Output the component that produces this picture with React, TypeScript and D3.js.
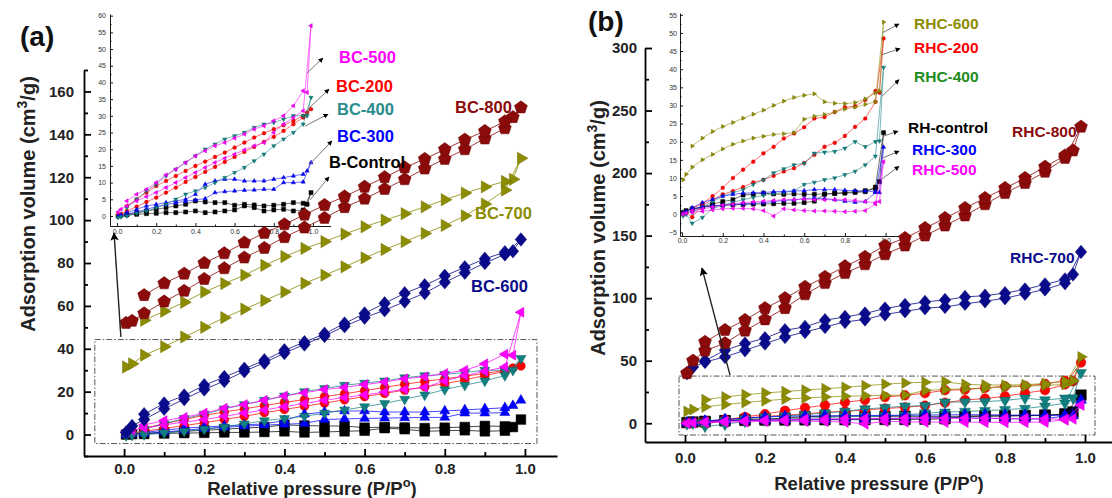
import React, { useEffect, useRef } from 'react';
import * as d3 from 'd3';

// relative pressure grids (adsorption up, desorption down)
const pAds = [0.005, 0.02, 0.05, 0.1, 0.15, 0.2, 0.25, 0.3, 0.35, 0.4, 0.45, 0.5, 0.55, 0.6, 0.65, 0.7, 0.75, 0.8, 0.85, 0.9, 0.95, 0.99];
const pDes = [0.97, 0.95, 0.9, 0.85, 0.8, 0.75, 0.7, 0.65, 0.6, 0.55, 0.5, 0.45, 0.4, 0.35, 0.3, 0.25, 0.2, 0.15, 0.1, 0.05];

// panel (a)
const bc800Ads = [52, 53, 56.5, 62, 67, 72.5, 77.5, 82.5, 87, 92, 96.5, 101, 106, 110, 114.5, 119, 124, 128.5, 133, 138, 142.8, 152.5];
const bc800Des = [148, 146, 141.5, 137.5, 133, 128.5, 124.5, 120, 115.5, 111, 107, 102.5, 98, 94, 89.5, 84.5, 80, 75, 70.5, 65];
const bc700Ads = [31.5, 33, 37, 41, 45.5, 50, 54.5, 58.5, 62.5, 66.5, 70.5, 74.3, 78.2, 82.4, 86.3, 90, 93.8, 97.5, 102, 107.5, 114, 128.8];
const bc700Des = [119, 118, 115.5, 112.6, 109.5, 106.2, 103, 100, 96.9, 93.5, 90, 86.8, 83, 78.9, 74.3, 70.4, 66.5, 61.7, 57.5, 53.3];
const bc600Ads = [1, 4, 7, 12, 16.5, 21, 25, 29.5, 33.5, 38, 42, 46, 50.5, 54.5, 58, 62, 66, 71, 75.5, 80, 84, 91];
const bc600Des = [85.5, 85, 82, 78, 74, 69.6, 65.9, 61.2, 56.5, 51.8, 47, 43.1, 39.3, 34.6, 30.7, 26.8, 23, 18.2, 14.5, 9.5];
const bc500Ads = [1.2, 2, 3, 4.5, 5.8, 7, 8.5, 10, 11.5, 13, 14.5, 16, 17.3, 18.5, 19.8, 21, 22, 25, 27.5, 29.5, 31.5, 57];
const bc500Des = [37, 37.5, 33, 30, 28.5, 27, 26, 24.5, 23.3, 22, 21, 19.5, 18, 16, 14, 12.3, 10, 8, 6.5, 4.5];
const bc200Ads = [0.3, 0.6, 1.5, 2.8, 4.2, 5.5, 7, 8.5, 10.2, 11.7, 13.2, 14.7, 16.2, 17.7, 19.2, 20.7, 22.2, 23.7, 25.5, 27.5, 29.5, 32];
const bc200Des = [31, 30, 28.5, 27.2, 26, 24.8, 23.5, 22, 20.5, 19, 17.7, 16.3, 15, 13.5, 12, 10.5, 9, 7, 5, 3];
const bc400Ads = [-0.5, -0.3, 0, 0.8, 1.5, 2.5, 3.5, 5, 6.5, 7.5, 8.5, 10, 11.5, 13, 14.5, 16.5, 18.5, 21, 23, 25, 27.5, 35.5];
const bc400Des = [30, 30, 30, 29, 28, 27.5, 26.5, 25, 24, 23, 21.5, 20, 18, 16, 14, 12, 9.5, 7.5, 5, 2.5];
const bc300Ads = [0, 0.3, 0.5, 1.2, 2, 2.8, 3.4, 3.9, 4.4, 4.8, 5.2, 7, 7.3, 7.5, 7.7, 7.8, 8, 8, 10, 10, 10.2, 16];
const bc300Des = [13.5, 12.5, 12, 11.5, 11, 10.5, 10.5, 10.5, 11, 11, 10.5, 9.5, 6.5, 5, 4.5, 4, 3.5, 3, 2, 1];
const bControlAds = [0, 0.2, 0.3, 0.5, 0.7, 0.8, 1, 1, 1.2, 1.5, 1, 1.2, 1.5, 1.8, 3, 2.5, 1.5, 1.8, 2, 1.5, 1.8, 7];
const bControlDes = [3.5, 3.8, 4, 3.5, 3.2, 3, 3.3, 3.5, 3.2, 4, 4, 4.2, 4.5, 3.5, 3, 2.5, 2, 1.5, 1, 0.5];

// panel (b)
const rhc800Ads = [40, 50, 58, 64, 74, 83, 92, 103, 112, 120, 127, 135, 142, 150, 158, 166, 175, 184, 192, 201, 212, 237];
const rhc800Des = [218, 214, 205, 196, 188, 180, 172, 164, 156, 148, 142, 133, 125.5, 117, 109, 100, 92, 82.5, 74.5, 65];
const rhc700Ads = [40, 45, 49, 53, 58.4, 63.7, 69, 73, 77, 81, 83, 87, 89.5, 92, 93, 95.5, 97.5, 100, 103.5, 107, 112, 137];
const rhc700Des = [119, 115, 111, 107, 104, 102, 101, 98.5, 97, 94.5, 91.7, 87.7, 85, 82.4, 77, 74.4, 68, 63.7, 58.4, 50];
const rhc600Ads = [9.5, 11, 13, 15, 16.5, 18, 19.3, 20.2, 21, 21.5, 22, 22.2, 22.5, 26.2, 27, 27.5, 28.2, 29, 29.5, 30.3, 31, 53];
const rhc600Des = [34, 33.5, 31.8, 30.8, 30.5, 30.6, 31, 33.2, 32.8, 32.2, 31.2, 30, 28.7, 27.6, 26.5, 25.3, 24.2, 22.8, 21, 18.8];
const rhc200Ads = [0.3, 0.5, -0.8, 2.5, 4, 5.5, 6.4, 7.5, 8.8, 9.5, 10.6, 11.8, 12.7, 14.1, 16.4, 18.6, 19.7, 21.6, 24.1, 26.4, 31, 48.5];
const rhc200Des = [33.5, 34, 31.5, 29.8, 29.5, 28.2, 26.8, 26.4, 24, 22.3, 20.9, 18.6, 16.8, 14.5, 12.3, 10, 7.3, 5, 3, 1.5];
const rhc400Ads = [-0.5, 0, -2.5, -0.9, 1.5, 2.5, 3.3, 4, 4.6, 5.2, 5.7, 6, 6.4, 8.2, 8.8, 9.5, 10, 10.9, 11.8, 13.6, 16, 40.5];
const rhc400Des = [20.2, 20, 18.6, 20, 18.2, 17.3, 17.1, 16.8, 14.1, 13.6, 12.5, 11.4, 9.5, 8.2, 6.8, 5.9, 5, 3.5, 2, 0.5];
const rhControlAds = [0.5, 1, 1.5, 2, 2.3, 2.5, 2.6, 2.7, 2.8, 2.8, 2.9, 3, 3, 3.2, 3.6, 5.5, 5.7, 5.8, 6, 6.2, 7.5, 22.5];
const rhControlDes = [9, 7, 6.5, 6.2, 6, 5.8, 5.6, 5.5, 5.5, 5.6, 5.5, 5.6, 5.8, 5.5, 5.3, 4, 3.5, 2.8, 2, 1.2];
const rhc300Ads = [0.3, 0.8, 1.5, 2, 2.3, 2.5, 2.7, 2.8, 3, 3.2, 3.5, 3.8, 4, 4.3, 4.5, 4.3, 4, 3.6, 3.3, 3.5, 6, 18.5];
const rhc300Des = [6, 6.2, 6.4, 6.5, 6.6, 6.8, 6.8, 6.8, 6.5, 6.4, 6.3, 6.2, 6, 5.9, 5.8, 5.5, 5, 4.1, 3.2, 1.8];
const rhc500Ads = [0, 0.3, 0.5, 0.8, 1.2, 1.5, 1.6, 1.6, 1.5, 1, -0.5, 1.5, 1.2, 1, 0.9, 0.9, 0.8, 0.7, 0.8, 1, 2.8, 14.5];
const rhc500Des = [3.5, 3.2, 3.5, 3.8, 4, 4, 4, 4, 4.2, 4, 4, 3.8, 3.6, 3.4, 3.2, 2.8, 2.5, 2, 1.5, 1];

const MAROON = '#8b0a0a', OLIVE = '#8c8c00', NAVY = '#0a0a8c', MAGENTA = '#ff00ff', RED = '#ff0000', TEAL = '#128080', BLUE = '#0000ff', BLACK = '#000000';
const FONT = "'Liberation Sans', Arial, Helvetica, sans-serif";

// marker shapes (size = diameter squared)
const poly = (n, rot, sx = 1) => ({
  draw(ctx, size) {
    const r = Math.sqrt(size) / 2;
    for (let i = 0; i < n; i++) {
      const a = rot + (i * 2 * Math.PI) / n;
      const px = Math.cos(a) * r * sx, py = Math.sin(a) * r;
      if (i === 0) ctx.moveTo(px, py); else ctx.lineTo(px, py);
    }
    ctx.closePath();
  },
});
const shapes = {
  pentagon: poly(5, -Math.PI / 2),
  diamond: poly(4, -Math.PI / 2, 0.85),
  square: poly(4, -Math.PI / 4),
  up: poly(3, -Math.PI / 2),
  down: poly(3, Math.PI / 2),
  left: poly(3, Math.PI),
  right: poly(3, 0),
  circle: { draw(ctx, size) { const r = Math.sqrt(size) / 2; ctx.moveTo(r, 0); ctx.arc(0, 0, r, 0, 2 * Math.PI); } },
};
const shapeScale = { pentagon: 1, diamond: 1, square: 1.25, up: 1.05, down: 1.05, left: 1.05, right: 1.05, circle: 0.8 };

const seriesA = [
  { name: 'B-Control', color: BLACK, shape: 'square', ads: bControlAds, des: bControlDes },
  { name: 'BC-200', color: RED, shape: 'circle', ads: bc200Ads, des: bc200Des },
  { name: 'BC-300', color: BLUE, shape: 'up', ads: bc300Ads, des: bc300Des },
  { name: 'BC-400', color: TEAL, shape: 'down', ads: bc400Ads, des: bc400Des },
  { name: 'BC-500', color: MAGENTA, shape: 'left', ads: bc500Ads, des: bc500Des },
];
const bigA = [
  { name: 'BC-600', color: NAVY, shape: 'diamond', ads: bc600Ads, des: bc600Des },
  { name: 'BC-700', color: OLIVE, shape: 'right', ads: bc700Ads, des: bc700Des },
  { name: 'BC-800', color: MAROON, shape: 'pentagon', ads: bc800Ads, des: bc800Des },
];
const seriesB = [
  { name: 'RH-control', color: BLACK, shape: 'square', ads: rhControlAds, des: rhControlDes },
  { name: 'RHC-200', color: RED, shape: 'circle', ads: rhc200Ads, des: rhc200Des },
  { name: 'RHC-400', color: TEAL, shape: 'down', ads: rhc400Ads, des: rhc400Des },
  { name: 'RHC-600', color: OLIVE, shape: 'right', ads: rhc600Ads, des: rhc600Des },
  { name: 'RHC-300', color: BLUE, shape: 'up', ads: rhc300Ads, des: rhc300Des },
  { name: 'RHC-500', color: MAGENTA, shape: 'left', ads: rhc500Ads, des: rhc500Des },
];
const bigB = [
  { name: 'RHC-700', color: NAVY, shape: 'diamond', ads: rhc700Ads, des: rhc700Des },
  { name: 'RHC-800', color: MAROON, shape: 'pentagon', ads: rhc800Ads, des: rhc800Des },
];

// text labels (pixel layout)
const labelsA = [
  { t: 'BC-500', c: MAGENTA, x: 339, y: 63 },
  { t: 'BC-200', c: RED, x: 336, y: 92 },
  { t: 'BC-400', c: '#2a8c8c', x: 337, y: 115 },
  { t: 'BC-300', c: BLUE, x: 337, y: 142 },
  { t: 'B-Control', c: BLACK, x: 329, y: 168 },
  { t: 'BC-800', c: MAROON, x: 455, y: 113 },
  { t: 'BC-700', c: OLIVE, x: 475, y: 219 },
  { t: 'BC-600', c: NAVY, x: 471, y: 292 },
];
const labelsB = [
  { t: 'RHC-600', c: OLIVE, x: 914, y: 29 },
  { t: 'RHC-200', c: RED, x: 914, y: 53 },
  { t: 'RHC-400', c: '#1e8c1e', x: 914, y: 82 },
  { t: 'RH-control', c: BLACK, x: 908, y: 133 },
  { t: 'RHC-300', c: BLUE, x: 912, y: 155 },
  { t: 'RHC-500', c: MAGENTA, x: 912, y: 175 },
  { t: 'RHC-800', c: MAROON, x: 1012, y: 137 },
  { t: 'RHC-700', c: NAVY, x: 1010, y: 263 },
];
// leader lines in inset data units [x0,y0,x1,y1]
const leadA = [[0.969, 42.8, 1.051, 47.3], [0.969, 31.7, 1.082, 38], [0.959, 26.9, 1.077, 30.5], [0.98, 15.3, 1.097, 22.5], [0.985, 4.8, 1.082, 11.7]];
const leadB = [[0.986, 50.1, 1.066, 52.5], [0.981, 44, 1.071, 45.7], [0.981, 32.5, 1.066, 37.1], [0.987, 21.5, 1.061, 22.9], [0.981, 15.4, 1.066, 17.4], [0.981, 9.7, 1.066, 13.2]];

const range = (a, b, s) => d3.range(a, b + s / 2, s).map(v => +v.toFixed(4));

const panels = [
  {
    tag: '(a)', tagX: 20, tagY: 46,
    x: d3.scaleLinear().domain([-0.1, 1.08]).range([84, 557]),
    y: d3.scaleLinear().domain([-10, 170]).range([456, 70]),
    xMajor: range(0, 1, 0.2), xMinor: range(0.1, 0.9, 0.2),
    yMajor: range(0, 160, 20), yMinor: range(-10, 170, 20),
    yPad: 10, xPad: 7, yTitle: [35, 204], xTitle: [312, 495],
    box: [-0.073, 44.3, 1.03, -4.2], arrow: [-0.008, 45.5, -0.025, 94],
    ix: d3.scaleLinear().domain([-0.036, 1.09]).range([110, 330.6]),
    iy: d3.scaleLinear().domain([-3, 60.5]).range([226, 14]),
    iyMajor: range(0, 60, 5), iyMinor: range(2.5, 57.5, 5), iyPad: 4, ixPad: 3,
    small: seriesA, big: bigA, labels: labelsA, lead: leadA, labelSize: 16.5,
    mainSize: 11, bigSize: 13.5,
  },
  {
    tag: '(b)', tagX: 588, tagY: 31,
    x: d3.scaleLinear().domain([-0.1, 1.07]).range([645, 1113]),
    y: d3.scaleLinear().domain([-15, 300]).range([442, 48]),
    xMajor: range(0, 1, 0.2), xMinor: range(0.1, 0.9, 0.2),
    yMajor: range(0, 300, 50), yMinor: range(25, 275, 50),
    yPad: 8, xPad: 10, yTitle: [605, 228], xTitle: [879, 490],
    box: [-0.015, 37.7, 1.025, -9.4], arrow: [0.1125, 38.5, 0.0425, 124],
    ix: d3.scaleLinear().domain([-0.01, 1.11]).range([680, 908]),
    iy: d3.scaleLinear().domain([-6, 55.5]).range([236, 13]),
    iyMajor: range(-5, 55, 5), iyMinor: range(-2.5, 52.5, 5), iyPad: 3, ixPad: 2,
    small: seriesB, big: bigB, labels: labelsB, lead: leadB, labelSize: 15.5,
    mainSize: 12, bigSize: 13.5,
  },
];

function drawAxes(g, x, y, o) {
  const x0 = x.range()[0], y0 = y.range()[0];
  const ya = g.append('g').attr('transform', `translate(${x0},0)`)
    .call(d3.axisLeft(y).tickValues(o.yMajor).tickSizeInner(-o.major).tickSizeOuter(0).tickPadding(o.yPad).tickFormat(d3.format('d')));
  const ym = g.append('g').attr('transform', `translate(${x0},0)`)
    .call(d3.axisLeft(y).tickValues(o.yMinor).tickSizeInner(-o.minor).tickSizeOuter(0).tickFormat(() => ''));
  const xa = g.append('g').attr('transform', `translate(0,${y0})`)
    .call(d3.axisBottom(x).tickValues(o.xMajor).tickSizeInner(-o.major).tickSizeOuter(0).tickPadding(o.xPad).tickFormat(d3.format('.1f')));
  const xm = g.append('g').attr('transform', `translate(0,${y0})`)
    .call(d3.axisBottom(x).tickValues(o.xMinor).tickSizeInner(-o.minor).tickSizeOuter(0).tickFormat(() => ''));
  ym.select('.domain').remove();
  xm.select('.domain').remove();
  [ya, ym, xa, xm].forEach(a => {
    a.selectAll('path, line').attr('stroke', '#000').attr('stroke-width', o.sw);
    a.selectAll('text').attr('font-family', FONT).attr('font-size', o.fs)
      .attr('font-weight', o.bold ? 'bold' : 'normal').attr('fill', o.tc);
  });
}

function drawSeries(g, s, x, y, size, lw) {
  const pts = [...pAds.map((p, i) => [p, s.ads[i]]), ...pDes.map((p, i) => [p, s.des[i]])];
  g.append('path').datum(pts)
    .attr('d', d3.line().x(d => x(d[0])).y(d => y(d[1])))
    .attr('fill', 'none').attr('stroke', s.color).attr('stroke-width', lw).attr('stroke-opacity', 0.8);
  const sz = size * shapeScale[s.shape];
  g.selectAll(null).data(pts).enter().append('path')
    .attr('transform', d => `translate(${x(d[0])},${y(d[1])})`)
    .attr('d', d3.symbol().type(shapes[s.shape]).size(sz * sz))
    .attr('fill', s.color)
    .attr('stroke', d3.color(s.color).darker(0.6).formatHex())
    .attr('stroke-width', 0.5);
}

export default function App() {
  const ref = useRef(null);
  useEffect(() => {
    const svg = d3.select(ref.current);
    svg.selectAll('*').remove();
    const defs = svg.append('defs');
    defs.append('marker').attr('id', 'arrBig').attr('viewBox', '0 0 10 10').attr('refX', 9).attr('refY', 5)
      .attr('markerWidth', 6).attr('markerHeight', 6).attr('markerUnits', 'strokeWidth').attr('orient', 'auto')
      .append('path').attr('d', 'M0,0 L10,5 L0,10 L2,5 Z').attr('fill', '#000');
    defs.append('marker').attr('id', 'arrSmall').attr('viewBox', '0 0 10 10').attr('refX', 9).attr('refY', 5)
      .attr('markerWidth', 5).attr('markerHeight', 5).attr('markerUnits', 'userSpaceOnUse').attr('orient', 'auto')
      .append('path').attr('d', 'M0,0 L10,5 L0,10 Z').attr('fill', '#000');

    panels.forEach(P => {
      const g = svg.append('g');
      // inset
      drawAxes(g, P.ix, P.iy, {
        yMajor: P.iyMajor, yMinor: P.iyMinor, xMajor: range(0, 1, 0.2), xMinor: range(0.1, 0.9, 0.2),
        major: 3, minor: 1.5, yPad: P.iyPad, xPad: P.ixPad, sw: 0.9, fs: 7, bold: false, tc: '#333',
      });
      P.small.forEach(s => drawSeries(g, s, P.ix, P.iy, 4.6, 0.7));
      P.lead.forEach(l => {
        g.append('line').attr('x1', P.ix(l[0])).attr('y1', P.iy(l[1])).attr('x2', P.ix(l[2])).attr('y2', P.iy(l[3]))
          .attr('stroke', '#777').attr('stroke-width', 1).attr('marker-end', 'url(#arrSmall)');
      });
      // dashed frame around low series
      const [bx0, by0, bx1, by1] = P.box;
      g.append('rect').attr('x', P.x(bx0)).attr('y', P.y(by0))
        .attr('width', P.x(bx1) - P.x(bx0)).attr('height', P.y(by1) - P.y(by0))
        .attr('fill', 'none').attr('stroke', '#555').attr('stroke-width', 1).attr('stroke-dasharray', '6,2,1.5,2');
      // main axes
      drawAxes(g, P.x, P.y, {
        yMajor: P.yMajor, yMinor: P.yMinor, xMajor: P.xMajor, xMinor: P.xMinor,
        major: 7, minor: 4, yPad: P.yPad, xPad: P.xPad, sw: 1.8, fs: 15, bold: true, tc: '#222',
      });
      P.small.forEach(s => drawSeries(g, s, P.x, P.y, P.mainSize, 0.9));
      P.big.forEach(s => drawSeries(g, s, P.x, P.y, P.bigSize, 1));
      // arrow from frame to inset
      const a = P.arrow;
      g.append('line').attr('x1', P.x(a[0])).attr('y1', P.y(a[1])).attr('x2', P.x(a[2])).attr('y2', P.y(a[3]))
        .attr('stroke', '#222').attr('stroke-width', 1.4).attr('marker-end', 'url(#arrBig)');
      // labels
      P.labels.forEach(l => {
        g.append('text').attr('x', l.x).attr('y', l.y).attr('fill', l.c).attr('font-family', FONT)
          .attr('font-weight', 'bold').attr('font-size', P.labelSize).text(l.t);
      });
      // titles
      const yt = g.append('text').attr('transform', `translate(${P.yTitle[0]},${P.yTitle[1]}) rotate(-90)`)
        .attr('text-anchor', 'middle').attr('font-family', FONT).attr('font-weight', 'bold').attr('font-size', 20).attr('fill', '#222');
      yt.append('tspan').text('Adsorption volume (cm');
      yt.append('tspan').attr('dy', -8).attr('font-size', 14).text('3');
      yt.append('tspan').attr('dy', 8).text('/g)');
      const xt = g.append('text').attr('x', P.xTitle[0]).attr('y', P.xTitle[1])
        .attr('text-anchor', 'middle').attr('font-family', FONT).attr('font-weight', 'bold').attr('font-size', 18.5).attr('fill', '#222');
      xt.append('tspan').text('Relative pressure (P/P');
      xt.append('tspan').attr('dy', -8).attr('font-size', 13).text('o');
      xt.append('tspan').attr('dy', 8).text(')');
      g.append('text').attr('x', P.tagX).attr('y', P.tagY).attr('font-family', FONT).attr('font-weight', 'bold')
        .attr('font-size', 28).attr('fill', '#111').text(P.tag);
    });
  }, []);
  return (
    <svg ref={ref} width={1112} height={498}
      style={{ position: 'absolute', left: 0, top: 0, display: 'block', background: '#fff' }} />
  );
}
